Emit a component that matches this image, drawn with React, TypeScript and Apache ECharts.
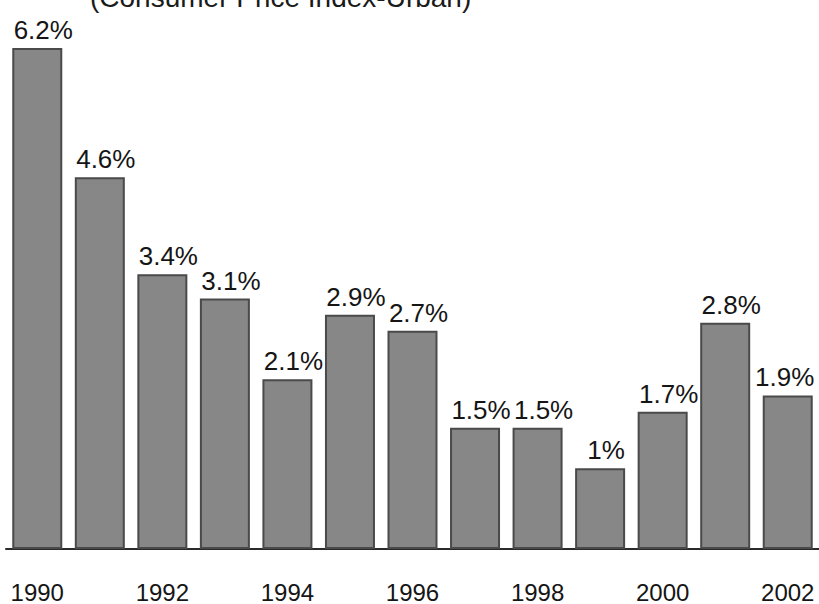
import React, { useEffect, useRef } from "react";
import * as echarts from "echarts";

const years: string[] = ["1990", "1991", "1992", "1993", "1994", "1995", "1996", "1997", "1998", "1999", "2000", "2001", "2002"];
const cpiValues: number[] = [6.2, 4.6, 3.4, 3.1, 2.1, 2.9, 2.7, 1.5, 1.5, 1.0, 1.7, 2.8, 1.9];
const valueLabels: string[] = ["6.2%", "4.6%", "3.4%", "3.1%", "2.1%", "2.9%", "2.7%", "1.5%", "1.5%", "1%", "1.7%", "2.8%", "1.9%"];
const titleText = "(Consumer Price Index-Urban)";

export default function App() {
  const ref = useRef<HTMLDivElement>(null);
  useEffect(() => {
    if (!ref.current) return;
    const chart = echarts.init(ref.current, null, { renderer: "svg" });
    const lastIndex = cpiValues.length - 1;
    chart.setOption({
      animation: false,
      backgroundColor: "#ffffff",
      title: {
        text: titleText,
        left: 90,
        top: -17,
        padding: 0,
        textStyle: {
          fontFamily: "Liberation Sans, Arial, sans-serif",
          fontSize: 28,
          fontWeight: "normal",
          color: "#1a1a1a",
        },
      },
      grid: { left: 6, right: -3, top: 48, bottom: 54, containLabel: false },
      xAxis: {
        type: "category",
        data: years,
        axisLine: { show: true, lineStyle: { color: "#2a2a2a", width: 2 } },
        axisTick: { show: false },
        axisLabel: {
          interval: 1,
          margin: 31,
          fontFamily: "Liberation Sans, Arial, sans-serif",
          fontSize: 24,
          color: "#151515",
        },
      },
      yAxis: {
        type: "value",
        min: 0,
        max: 6.2,
        show: false,
        splitLine: { show: false },
      },
      series: [
        {
          type: "bar",
          data: cpiValues.map((v, i) =>
            i === lastIndex ? { value: v, label: { offset: [-3, 0] } } : v
          ),
          barWidth: 50,
          itemStyle: {
            color: "#878787",
            borderColor: "#4a4a4a",
            borderWidth: 2,
          },
          label: {
            show: true,
            position: "top",
            distance: 5,
            offset: [6, 0],
            formatter: (p: any) => valueLabels[p.dataIndex],
            fontFamily: "Liberation Sans, Arial, sans-serif",
            fontSize: 26,
            color: "#151515",
          },
        },
      ],
    });
    return () => chart.dispose();
  }, []);
  return (
    <div
      ref={ref}
      style={{ position: "fixed", left: 0, top: 0, width: 819, height: 604, background: "#fff" }}
    />
  );
}
